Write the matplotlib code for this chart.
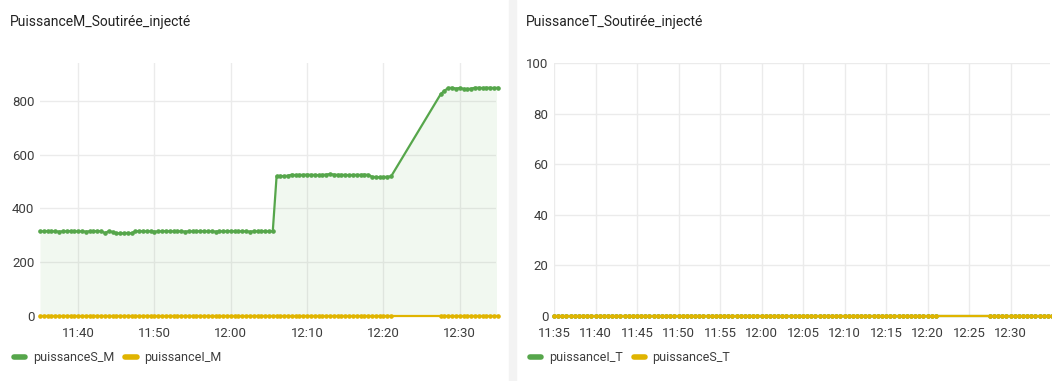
import matplotlib
matplotlib.use("Agg")
import matplotlib.pyplot as plt
import matplotlib.dates as mdates
from matplotlib.lines import Line2D
from matplotlib.patches import Rectangle
import pandas as pd
import numpy as np

plt.rcParams['font.family'] = ['Roboto', 'DejaVu Sans']

# sample times: 30 s readings, with a gap between 12:21 and 12:27:30
times = list(pd.date_range("2024-01-01 11:35:00", "2024-01-01 12:21:00", freq="30s")) + \
    list(pd.date_range("2024-01-01 12:27:30", "2024-01-01 12:35:00", freq="30s"))

puissanceS_M = [
    315, 315, 316, 315, 315, 314, 315, 315, 316, 315, 315, 315, 314, 315, 315, 316, 315,
    309, 315, 313, 308, 307, 308, 309, 308,
    315, 316, 315, 315, 315, 314, 315, 315, 316, 315,
    315, 315, 315, 314, 315, 315, 315, 316, 315, 315,
    315, 314, 315, 315, 315, 316, 315, 315, 315, 315,
    314, 315, 315, 316, 315, 315, 315,
    520, 521, 520, 522, 526, 524, 525, 525, 526, 525,
    525, 524, 525, 526, 528, 526, 525, 525, 525, 524,
    525, 525, 525, 526, 525, 518, 517, 516, 517, 518,
    519,
    825, 838, 848, 849, 846, 848, 845, 844, 846, 849, 849, 848, 849, 849, 848, 849,
]
puissanceI_M = [0] * len(times)
puissanceI_T = [0] * len(times)
puissanceS_T = [0] * len(times)

GREEN = "#56a64b"
YELLOW = "#e0b400"
GRID = "#ebebeb"
TXT = "#3d3d3d"

W, H = 1052, 381
fig = plt.figure(figsize=(W / 100, H / 100), dpi=100)


def px(x0, y0, x1, y1):
    return [x0 / W, 1 - y1 / H, (x1 - x0) / W, (y1 - y0) / H]


def style(ax, ymax, yticks, major):
    ax.set_ylim(0, ymax)
    ax.set_yticks(yticks)
    ax.set_xlim(pd.Timestamp("2024-01-01 11:35"), pd.Timestamp("2024-01-01 12:34:45"))
    ax.xaxis.set_major_locator(mdates.MinuteLocator(byminute=major))
    ax.xaxis.set_major_formatter(mdates.DateFormatter("%H:%M"))
    for s in ax.spines.values():
        s.set_visible(False)
    ax.grid(True, color=GRID, lw=1)
    ax.set_axisbelow(True)
    ax.tick_params(length=0, labelsize=9.5, colors=TXT)
    ax.tick_params(axis="x", pad=8)
    ax.tick_params(axis="y", pad=4)


def series(ax, y, color, fill=False):
    ax.plot(times, y, color=color, lw=1.6, marker="o", ms=2.3, clip_on=False, zorder=3)
    if fill:
        ax.fill_between(times, y, 0, color=color, alpha=0.08, lw=0)


# left panel
ax1 = fig.add_axes(px(40, 63, 496, 316))
style(ax1, 941, [0, 200, 400, 600, 800], range(0, 60, 10))
series(ax1, puissanceS_M, GREEN, fill=True)
series(ax1, puissanceI_M, YELLOW)
fig.text(10 / W, 1 - 22 / H, "PuissanceM_Soutirée_injecté", fontsize=10, color="#222222", va="center")

# right panel
ax2 = fig.add_axes(px(554, 63, 1050, 316))
style(ax2, 100, [0, 20, 40, 60, 80, 100], range(0, 60, 5))
series(ax2, puissanceI_T, GREEN)
series(ax2, puissanceS_T, YELLOW)
fig.text(526 / W, 1 - 22 / H, "PuissanceT_Soutirée_injecté", fontsize=10, color="#222222", va="center")

# panel separator
fig.patches.append(Rectangle((509 / W, 0), 7 / W, 1, transform=fig.transFigure,
                             color="#f3f3f3", zorder=0))


def legend(x, labels, colors):
    handles = [Line2D([], [], color=c, lw=4, solid_capstyle="round") for c in colors]
    fig.legend(handles, labels, loc="center left", bbox_to_anchor=(x / W, 1 - 358 / H),
               ncol=2, frameon=False, fontsize=9, handlelength=0.9, handletextpad=0.6,
               columnspacing=0.9, borderpad=0, borderaxespad=0, labelcolor=TXT)


legend(14, ["puissanceS_M", "puissanceI_M"], [GREEN, YELLOW])
legend(530, ["puissanceI_T", "puissanceS_T"], [GREEN, YELLOW])

fig.savefig("out.png", dpi=100, facecolor="white")
